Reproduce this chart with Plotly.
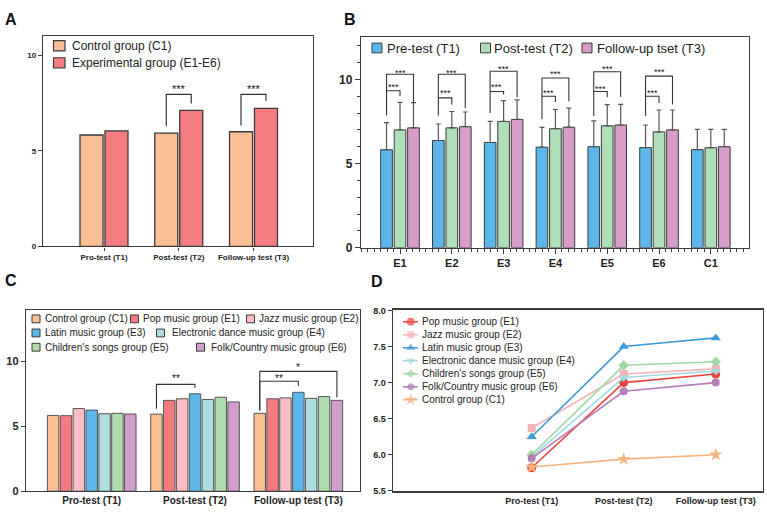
import numpy as np
import plotly.graph_objects as go

W, H = 767, 520
FONT = "Liberation Sans, Arial, Helvetica, sans-serif"
AX = "#3c3c3c"
EDGE = "#3a3a3a"
STAR = "#111111"


def PX(x):
    return x / W


def PY(y):
    return 1 - y / H


# ---------------- data ----------------
time_labels = ["Pro-test (T1)", "Post-test (T2)", "Follow-up test (T3)"]

# Panel A: control vs experimental (mean of E1-E6)
a_control = [5.83, 5.93, 6.00]
a_experimental = [6.05, 7.12, 7.22]

# Panel B: every group across the three tests (mean and SD)
b_groups = ["E1", "E2", "E3", "E4", "E5", "E6", "C1"]
b_pre = [5.82, 6.37, 6.25, 5.97, 6.00, 5.95, 5.83]
b_post = [7.00, 7.12, 7.50, 7.07, 7.24, 6.88, 5.94]
b_follow = [7.12, 7.19, 7.62, 7.16, 7.29, 7.00, 6.00]
b_pre_sd = [1.61, 0.98, 1.26, 1.18, 1.53, 1.34, 1.20]
b_post_sd = [1.63, 0.97, 1.24, 1.14, 1.26, 1.30, 1.09]
b_follow_sd = [1.50, 0.87, 1.16, 1.13, 1.22, 1.18, 1.03]
b_series = ["Pre-test (T1)", "Post-test (T2)", "Follow-up tset (T3)"]

# Panels C and D: group means per test
control = [5.83, 5.94, 6.00]
pop = [5.82, 7.00, 7.12]
jazz = [6.37, 7.12, 7.19]
latin = [6.25, 7.50, 7.62]
edm = [5.97, 7.07, 7.16]
children = [6.00, 7.24, 7.29]
folk = [5.95, 6.88, 7.00]

c_names = ["Control group (C1)", "Pop music group (E1)", "Jazz music group (E2)",
           "Latin music group (E3)", "Electronic dance music group (E4)",
           "Children's songs group (E5)", "Folk/Country music group (E6)"]
c_values = [control, pop, jazz, latin, edm, children, folk]
c_colors = ["#FBBF94", "#F47C80", "#F9BDC4", "#5DB6EA", "#AEDFE0", "#AEDCAE", "#D19DCB"]

d_names = ["Pop music group (E1)", "Jazz music group (E2)", "Latin music group (E3)",
           "Electronic dance music group (E4)", "Children's songs group (E5)",
           "Folk/Country music group (E6)", "Control group (C1)"]
d_values = [pop, jazz, latin, edm, children, folk, control]
d_colors = ["#E8463E", "#F5B3B9", "#3D9CDB", "#A2DAE2", "#9FD9A4", "#B47EB8", "#F5B47E"]
d_symbols = ["circle", "square", "triangle-up", "triangle-down", "diamond", "circle", "star"]
d_sizes = [9, 8, 9, 9, 8, 8, 10]

# significance brackets (heights in axis units)
a_sig = [(1, 6.30, 7.96, 7.48, 8.32, "***"), (2, 6.33, 7.96, 7.62, 8.32, "***")]
# B: lower bracket T1-T2: (left bottom, top, right bottom, star y); upper T1-T3: (top, right bottom, star y)
b_low = [(7.85, 9.32, 9.00, 9.64), (7.85, 8.90, 8.50, 9.30), (8.00, 9.28, 9.10, 9.67),
         (7.63, 9.00, 8.66, 9.28), (7.83, 9.28, 8.93, 9.53), (7.83, 9.00, 8.60, 9.28)]
b_up = [(10.30, 8.60, 10.52), (10.30, 8.30, 10.52), (10.48, 8.95, 10.75),
        (10.08, 8.70, 10.45), (10.45, 8.95, 10.74), (10.19, 8.50, 10.54)]
# C: (test index, left bar, right bar, left bottom, top, right bottom, star y, label)
c_sig = [(1, 0, 3, 6.35, 8.23, 7.98, 8.85, "**"),
         (2, 0, 3, 6.22, 8.47, 8.10, 8.80, "**"),
         (2, 0, 6, 6.22, 9.23, 7.22, 9.68, "*")]

fig = go.Figure()
shapes = []
annotations = []
xi = list(range(len(time_labels)))
bi = list(range(len(b_groups)))

# ---------------- Panel A ----------------
a_w, a_off = 0.308, [-0.321, 0.013]
for vals, col, off in [(a_control, "#FBBF94", a_off[0]), (a_experimental, "#F47C80", a_off[1])]:
    fig.add_trace(go.Bar(x=xi, y=vals, width=a_w, offset=off, xaxis="x", yaxis="y",
                         marker=dict(color=col, line=dict(color=EDGE, width=1.3))))
for t, lb, top, rb, sy, lab in a_sig:
    xl = t + a_off[0] + a_w / 2
    xr = t + a_off[1] + a_w / 2
    shapes.append(dict(type="path", xref="x", yref="y",
                       path=f"M {xl},{lb} L {xl},{top} L {xr},{top} L {xr},{rb}",
                       line=dict(color="#333", width=1.2)))
    annotations.append(dict(x=(xl + xr) / 2, y=sy, xref="x", yref="y", text=lab, showarrow=False,
                            font=dict(size=11, color=STAR), yshift=-2))

# ---------------- Panel B ----------------
b_w = 0.225
b_centers = [-0.26, 0.0, 0.26]
b_cols = ["#5DB6EA", "#AEDFB9", "#D89CC9"]
for vals, sd, col, c in zip([b_pre, b_post, b_follow], [b_pre_sd, b_post_sd, b_follow_sd], b_cols, b_centers):
    fig.add_trace(go.Bar(x=bi, y=vals, width=b_w, offset=c - b_w / 2, xaxis="x2", yaxis="y2",
                         marker=dict(color=col, line=dict(color=EDGE, width=1)),
                         error_y=dict(type="data", array=sd, arrayminus=[0] * len(sd), symmetric=False,
                                      color="#555", thickness=1.2, width=2.5)))
for i in range(len(b_low)):
    xb, xg, xp = i + b_centers[0], i + b_centers[1], i + b_centers[2]
    lb, lt, rb, sy = b_low[i]
    ut, urb, usy = b_up[i]
    shapes.append(dict(type="path", xref="x2", yref="y2",
                       path=f"M {xb},{lb} L {xb},{lt} L {xg},{lt} L {xg},{rb}",
                       line=dict(color="#333", width=1.1)))
    shapes.append(dict(type="path", xref="x2", yref="y2",
                       path=f"M {xb},{lt} L {xb},{ut} L {xp},{ut} L {xp},{urb}",
                       line=dict(color="#333", width=1.1)))
    annotations.append(dict(x=(xb + xg) / 2, y=sy, xref="x2", yref="y2", text="***", showarrow=False,
                            font=dict(size=9, color=STAR), yshift=-2))
    annotations.append(dict(x=(xb + xp) / 2, y=usy, xref="x2", yref="y2", text="***", showarrow=False,
                            font=dict(size=9, color=STAR), yshift=-2))

# ---------------- Panel C ----------------
c_pitch, c_w = 0.1245, 0.111
c_centers = [(k - 3) * c_pitch for k in range(len(c_names))]
for vals, col, c in zip(c_values, c_colors, c_centers):
    fig.add_trace(go.Bar(x=xi, y=vals, width=c_w, offset=c - c_w / 2, xaxis="x3", yaxis="y3",
                         marker=dict(color=col, line=dict(color="#555", width=1))))
for t, kl, kr, lb, top, rb, sy, lab in c_sig:
    xl, xr = t + c_centers[kl], t + c_centers[kr]
    shapes.append(dict(type="path", xref="x3", yref="y3",
                       path=f"M {xl},{lb} L {xl},{top} L {xr},{top} L {xr},{rb}",
                       line=dict(color="#333", width=1.1)))
    annotations.append(dict(x=(xl + xr) / 2, y=sy, xref="x3", yref="y3", text=lab, showarrow=False,
                            font=dict(size=10, color=STAR), yshift=-2))

# ---------------- Panel D ----------------
for name, vals, col, sym, sz in zip(d_names, d_values, d_colors, d_symbols, d_sizes):
    fig.add_trace(go.Scatter(x=xi, y=vals, mode="lines+markers", xaxis="x4", yaxis="y4",
                             line=dict(color=col, width=1.6),
                             marker=dict(color=col, symbol=sym, size=sz, line=dict(width=0))))

# ---------------- legends (drawn manually) ----------------
def sq(x0, y0, x1, y1, col, lw=1):
    shapes.append(dict(type="rect", xref="paper", yref="paper", x0=PX(x0), x1=PX(x1),
                       y0=PY(y1), y1=PY(y0), fillcolor=col, line=dict(color=EDGE, width=lw)))


def txt(x, y, s, size, bold=False, color="#222"):
    annotations.append(dict(x=PX(x), y=PY(y), xref="paper", yref="paper", text=s, showarrow=False,
                            xanchor="left", yanchor="middle",
                            font=dict(size=size, color=color, weight="bold" if bold else "normal"),
                            borderpad=0))


# A legend
sq(53.5, 36.5, 65, 47, "#FBBF94", 1.2)
txt(70.5, 41.7, "Control group (C1)", 12)
sq(53.5, 54, 65, 64.5, "#F47C80", 1.2)
txt(70.5, 59.2, "Experimental group (E1-E6)", 12)

# B legend
for (sx, tx), col, name in zip([(372, 386), (480.5, 492.5), (582, 595.5)], b_cols, b_series):
    sq(sx, 39, sx + 10, 49, col)
    txt(tx, 44.2, name, 13)

# C legend
c_leg_pos = [(32, 44, 321.3), (130.5, 141.5, 321.3), (246.5, 257.5, 321.3),
             (32, 44, 335.7), (156.5, 170.5, 335.7),
             (32, 44, 350.3), (196.5, 209.5, 350.3)]
for (sx, tx, ty), col, name in zip(c_leg_pos, c_colors, c_names):
    sq(sx, ty - 4, sx + 8, ty + 4, col)
    txt(tx, ty, name, 10)

# D legend (overlay axis in pixel units)
for k, (name, col, sym, sz) in enumerate(zip(d_names, d_colors, d_symbols, d_sizes)):
    ry = 324.3 + 13.3 * k
    fig.add_trace(go.Scatter(x=[403, 410.7, 418], y=[ry] * 3, mode="lines+markers",
                             xaxis="x5", yaxis="y5", line=dict(color=col, width=1.5),
                             marker=dict(color=col, symbol=sym, size=[0, sz - 1, 0], line=dict(width=0)),
                             hoverinfo="skip"))
    txt(420.5, ry, name, 10)

# panel letters
for s, x, y in [("A", 4, 15), ("B", 342.5, 14.5), ("C", 4, 281.5), ("D", 369.5, 283)]:
    txt(x, y, s, 16, bold=True, color="#111")

# ---------------- axes ----------------
def xax(dom, rng, size, ticklen, ticks="outside", **kw):
    d = dict(domain=[PX(dom[0]), PX(dom[1])], range=rng, showline=True, mirror=True,
             linecolor=AX, linewidth=1.4, ticks=ticks, ticklen=ticklen, tickcolor=AX, tickwidth=1.2,
             showgrid=False, zeroline=False, fixedrange=True,
             tickfont=dict(size=size, color="#222", weight="bold"))
    d.update(kw)
    return d


def yax(dom, rng, size, ticklen, **kw):
    d = dict(domain=[PY(dom[1]), PY(dom[0])], range=rng, showline=True, mirror=True,
             linecolor=AX, linewidth=1.4, ticks="outside", ticklen=ticklen, tickcolor=AX, tickwidth=1.2,
             showgrid=False, zeroline=False, fixedrange=True,
             tickfont=dict(size=size, color="#222", weight="bold"))
    d.update(kw)
    return d


b_minor = list(np.round(np.arange(-0.75, 6.74, 0.125), 4))

layout = dict(
    width=W, height=H, margin=dict(l=0, r=0, t=0, b=0),
    paper_bgcolor="white", plot_bgcolor="rgba(0,0,0,0)",
    font=dict(family=FONT, color="#222"), showlegend=False,
    xaxis=xax((43, 313), [-0.816, 2.796], 8, 3, anchor="y", tickmode="array", tickvals=xi,
              ticktext=time_labels),
    yaxis=yax((32, 247), [0, 11], 8, 4, anchor="x", tickmode="array", tickvals=[0, 5, 10]),
    xaxis2=xax((361, 749), [-0.753, 6.737], 11, 5, anchor="y2", tickmode="array", tickvals=bi,
               ticktext=b_groups,
               minor=dict(tickmode="array", tickvals=b_minor, ticks="outside", ticklen=3,
                          tickcolor=AX, tickwidth=1)),
    yaxis2=yax((33, 248.5), [0, 12.5], 12, 5, anchor="x2", tickmode="array", tickvals=[0, 5, 10],
               minor=dict(tickmode="linear", tick0=0, dtick=1, ticks="outside", ticklen=3,
                          tickcolor=AX, tickwidth=1)),
    xaxis3=xax((26, 360), [-0.636, 2.597], 10, 0, ticks="", anchor="y3", tickmode="array",
               tickvals=xi, ticktext=time_labels),
    yaxis3=yax((311.7, 497.7), [0, 14], 11, 4, anchor="x3", tickmode="array", tickvals=[0, 5, 10]),
    xaxis4=xax((392.7, 762.7), [-1.51, 2.51], 9, 0, ticks="", anchor="y4", tickmode="array",
               tickvals=xi, ticktext=time_labels, linewidth=1.8),
    yaxis4=yax((312.7, 497.3), [5.5, 8.0], 9, 4, anchor="x4", tickmode="linear", tick0=5.5,
               dtick=0.5, tickformat=".1f"),
    xaxis5=dict(domain=[0, 1], range=[0, W], visible=False, anchor="y5", fixedrange=True),
    yaxis5=dict(domain=[0, 1], range=[H, 0], visible=False, anchor="x5", fixedrange=True),
    shapes=shapes, annotations=annotations,
)
fig.update_layout(**layout)
fig.write_html("out.html")
